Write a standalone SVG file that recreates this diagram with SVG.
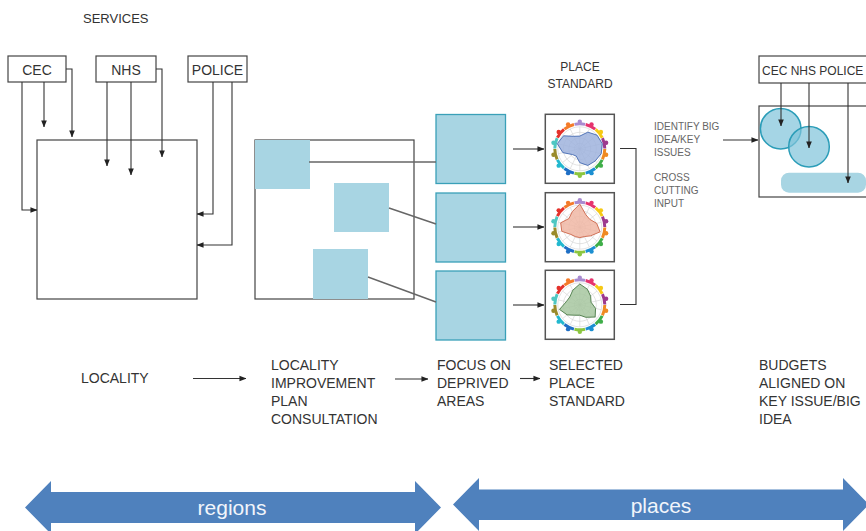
<svg xmlns="http://www.w3.org/2000/svg" width="866" height="531" viewBox="0 0 866 531">
<style>
.t{font-family:"Liberation Sans",Arial,sans-serif;fill:#333}
.lab{font-size:14px}
.sm{font-size:10px;fill:#666}
.box{fill:#fff;stroke:#444;stroke-width:1.2}
.conn{fill:none;stroke:#333;stroke-width:1.1}
.gl{fill:none;stroke:#666;stroke-width:1.4}
.blue{fill:#a8d5e3}
.focus{fill:#a8d5e3;stroke:#3aa0b8;stroke-width:1.3}
.ps{fill:#fff;stroke:#555;stroke-width:1.5}
.big{fill:#4f81bd}
.bt{font-family:"Liberation Sans",Arial,sans-serif;font-size:21px;fill:#f2f5fb;text-anchor:middle}
.seg{fill:none;stroke-width:3;stroke-dasharray:10.6 146.48}
</style>
<defs>
<marker id="ah" viewBox="0 0 8 8" refX="7.5" refY="4" markerWidth="7" markerHeight="7" markerUnits="userSpaceOnUse" orient="auto">
<path d="M0,0.8 L8,4 L0,7.2 Z" fill="#222"/>
</marker>
<g id="radar-base">
<g fill="none" stroke="#d0d0d0" stroke-width="0.6">
<circle r="5.5"/><circle r="11"/><circle r="16.5"/><circle r="22"/>
<path d="M0,-22 L0,22 M9.55,-19.82 L-9.55,19.82 M17.2,-13.72 L-17.2,13.72 M21.45,-4.9 L-21.45,4.9 M21.45,4.9 L-21.45,-4.9 M17.2,13.72 L-17.2,-13.72 M9.55,19.82 L-9.55,-19.82"/>
</g>
<circle class="seg" r="25" stroke="#a98bd0" transform="rotate(-102.1)"/>
<circle class="seg" r="25" stroke="#e6336e" transform="rotate(-76.4)"/>
<circle class="seg" r="25" stroke="#f6c915" transform="rotate(-50.7)"/>
<circle class="seg" r="25" stroke="#9d3a8e" transform="rotate(-25)"/>
<circle class="seg" r="25" stroke="#ef8a22" transform="rotate(0.7)"/>
<circle class="seg" r="25" stroke="#3fae49" transform="rotate(26.4)"/>
<circle class="seg" r="25" stroke="#1c8fd1" transform="rotate(52.1)"/>
<circle class="seg" r="25" stroke="#8cc63f" transform="rotate(77.9)"/>
<circle class="seg" r="25" stroke="#1f6fc5" transform="rotate(103.6)"/>
<circle class="seg" r="25" stroke="#22b8cf" transform="rotate(129.3)"/>
<circle class="seg" r="25" stroke="#9a8b2b" transform="rotate(155)"/>
<circle class="seg" r="25" stroke="#4fc7c2" transform="rotate(180.7)"/>
<circle class="seg" r="25" stroke="#e4312b" transform="rotate(206.4)"/>
<circle class="seg" r="25" stroke="#f47b2a" transform="rotate(232.1)"/>
<g>
<circle cx="0" cy="-27" r="2.2" fill="#a98bd0"/>
<circle cx="11.72" cy="-24.33" r="2.2" fill="#e6336e"/>
<circle cx="21.11" cy="-16.84" r="2.2" fill="#f6c915"/>
<circle cx="26.32" cy="-6.01" r="2.2" fill="#9d3a8e"/>
<circle cx="26.32" cy="6.01" r="2.2" fill="#ef8a22"/>
<circle cx="21.11" cy="16.84" r="2.2" fill="#3fae49"/>
<circle cx="11.72" cy="24.33" r="2.2" fill="#1c8fd1"/>
<circle cx="0" cy="27" r="2.2" fill="#8cc63f"/>
<circle cx="-11.72" cy="24.33" r="2.2" fill="#1f6fc5"/>
<circle cx="-21.11" cy="16.84" r="2.2" fill="#22b8cf"/>
<circle cx="-26.32" cy="6.01" r="2.2" fill="#9a8b2b"/>
<circle cx="-26.32" cy="-6.01" r="2.2" fill="#4fc7c2"/>
<circle cx="-21.11" cy="-16.84" r="2.2" fill="#e4312b"/>
<circle cx="-11.72" cy="-24.33" r="2.2" fill="#f47b2a"/>
</g>
</g>
</defs>

<rect width="866" height="531" fill="#fff"/>

<text class="t" x="83" y="23" font-size="13">SERVICES</text>

<g id="cec"><rect class="box" x="8" y="56" width="58" height="26"/><text class="t lab" x="37" y="75" text-anchor="middle">CEC</text></g>
<g id="nhs"><rect class="box" x="96" y="56" width="60" height="26"/><text class="t lab" x="126" y="75" text-anchor="middle">NHS</text></g>
<g id="police"><rect class="box" x="188" y="56" width="59" height="26"/><text class="t lab" x="217.5" y="75" text-anchor="middle">POLICE</text></g>

<g id="locality-box"><rect class="box" x="37" y="140" width="160" height="159"/></g>

<g id="lip-box">
<rect class="box" x="255" y="140" width="159" height="159"/>
<rect class="blue" x="255" y="140" width="55" height="49"/>
<rect class="blue" x="334" y="183" width="55" height="49"/>
<rect class="blue" x="313" y="249" width="55" height="50"/>
</g>

<g id="focus-areas">
<rect class="focus" x="436" y="114.5" width="69.5" height="69"/>
<rect class="focus" x="436" y="193" width="69.5" height="69"/>
<rect class="focus" x="436" y="271" width="69.5" height="69"/>
</g>

<g id="place-standard-title"><text class="t" font-size="12" text-anchor="middle"><tspan x="580" y="71">PLACE</tspan><tspan x="580" y="88">STANDARD</tspan></text></g>

<g id="ps1" transform="translate(579.8,148.8)">
<rect class="ps" x="-34.5" y="-34.5" width="69" height="69"/>
<use href="#radar-base"/>
<polygon transform="scale(1.05)" points="0,-12.1 7.64,-15.86 16.34,-13.03 21.45,-4.9 20.38,4.65 14.62,11.66 7.64,15.86 0,13.2 -3.34,6.94 -6.88,5.49 -16.09,3.67 -21.45,-4.9 -15.48,-12.35 -5.73,-11.89" fill="#9fb3dd" fill-opacity="0.85" stroke="#4a6fb5" stroke-width="0.9"/>
</g>
<g id="ps2" transform="translate(579.8,227.2)">
<rect class="ps" x="-34.5" y="-34.5" width="69" height="69"/>
<use href="#radar-base"/>
<polygon transform="scale(1.05)" points="0,-22 5.73,-11.89 9.46,-7.54 16.09,-3.67 19.3,4.41 10.32,8.23 4.3,8.92 0,9.9 -4.3,8.92 -8.6,6.86 -17.16,3.92 -18.23,-4.16 -10.32,-8.23 -7.16,-14.87" fill="#f0b7a4" fill-opacity="0.85" stroke="#cf6a4f" stroke-width="0.9"/>
</g>
<g id="ps3" transform="translate(579.8,304.8)">
<rect class="ps" x="-34.5" y="-34.5" width="69" height="69"/>
<use href="#radar-base"/>
<polygon transform="scale(1.05)" points="0,-19.8 7.16,-14.87 10.32,-8.23 10.72,-2.45 15.01,3.43 14.62,11.66 5.73,11.89 0,9.9 -4.77,9.91 -12.04,9.6 -19.3,4.41 -12.87,-2.94 -9.46,-7.54 -6.68,-13.88" fill="#a7c7a0" fill-opacity="0.85" stroke="#4f7d4a" stroke-width="0.9"/>
</g>

<g id="identify-text"><text class="t sm"><tspan x="654" y="130">IDENTIFY BIG</tspan><tspan x="654" y="143">IDEA/KEY</tspan><tspan x="654" y="156">ISSUES</tspan><tspan x="654" y="181">CROSS</tspan><tspan x="654" y="194">CUTTING</tspan><tspan x="654" y="207">INPUT</tspan></text></g>

<g id="budget-services"><rect class="box" x="759" y="56" width="130" height="27"/><text class="t" font-size="12" x="762" y="74.5">CEC NHS POLICE</text></g>
<g id="budget-box">
<rect class="box" x="759" y="106" width="130" height="91"/>
<circle cx="780.7" cy="128.7" r="20.3" fill="#7fc3da" fill-opacity="0.7" stroke="#2b9db8" stroke-width="1.5"/>
<circle cx="809" cy="146.7" r="20.3" fill="#7fc3da" fill-opacity="0.7" stroke="#2b9db8" stroke-width="1.5"/>
<rect class="blue" x="781" y="172.7" width="85" height="20" rx="8"/>
</g>

<g id="connectors">
<path class="conn" d="M22,82 V210 H37" marker-end="url(#ah)"/>
<path class="conn" d="M44,82 V127" marker-end="url(#ah)"/>
<path class="conn" d="M66,69 H72 V137" marker-end="url(#ah)"/>
<path class="conn" d="M107,82 V166" marker-end="url(#ah)"/>
<path class="conn" d="M131,82 V175" marker-end="url(#ah)"/>
<path class="conn" d="M156,69 H162 V157" marker-end="url(#ah)"/>
<path class="conn" d="M213,82 V214 H197" marker-end="url(#ah)"/>
<path class="conn" d="M232,82 V245 H197" marker-end="url(#ah)"/>
<path class="gl" d="M309,162 H436"/>
<path class="gl" d="M389,208 L436,224"/>
<path class="gl" d="M368,277 L436,302"/>
<path class="conn" d="M513,149 H544" marker-end="url(#ah)"/>
<path class="conn" d="M513,227 H544" marker-end="url(#ah)"/>
<path class="conn" d="M513,305 H544" marker-end="url(#ah)"/>
<path class="conn" d="M620,148.5 H636 V304.5 H620"/>
<path class="conn" d="M723,140 H758" marker-end="url(#ah)"/>
<path class="conn" d="M781,83 V126" marker-end="url(#ah)"/>
<path class="conn" d="M809,83 V148" marker-end="url(#ah)"/>
<path class="conn" d="M848,83 V183" marker-end="url(#ah)"/>
<path class="conn" d="M193,378.5 H246" marker-end="url(#ah)"/>
<path class="conn" d="M395,379 H428" marker-end="url(#ah)"/>
<path class="conn" d="M520,378.5 H540" marker-end="url(#ah)"/>
</g>

<g id="stage-labels">
<text class="t lab" x="81" y="383">LOCALITY</text>
<text class="t lab"><tspan x="271" y="369.5">LOCALITY</tspan><tspan x="271" y="388">IMPROVEMENT</tspan><tspan x="271" y="406">PLAN</tspan><tspan x="271" y="424">CONSULTATION</tspan></text>
<text class="t lab"><tspan x="437" y="370">FOCUS ON</tspan><tspan x="437" y="388">DEPRIVED</tspan><tspan x="437" y="406">AREAS</tspan></text>
<text class="t lab"><tspan x="549" y="370">SELECTED</tspan><tspan x="549" y="388">PLACE</tspan><tspan x="549" y="406">STANDARD</tspan></text>
<text class="t lab"><tspan x="759" y="370">BUDGETS</tspan><tspan x="759" y="388">ALIGNED ON</tspan><tspan x="759" y="406">KEY ISSUE/BIG</tspan><tspan x="759" y="424">IDEA</tspan></text>
</g>

<g id="regions-arrow">
<polygon class="big" points="25,507.5 51,481 51,492 415,492 415,481 441,507.5 415,534 415,523 51,523 51,534"/>
<text class="bt" x="232" y="515">regions</text>
</g>
<g id="places-arrow">
<polygon class="big" points="453,504.5 479,478 479,489.5 843,489.5 843,478 869,504.5 843,531 843,520 479,520 479,531"/>
<text class="bt" x="661" y="513">places</text>
</g>
</svg>
